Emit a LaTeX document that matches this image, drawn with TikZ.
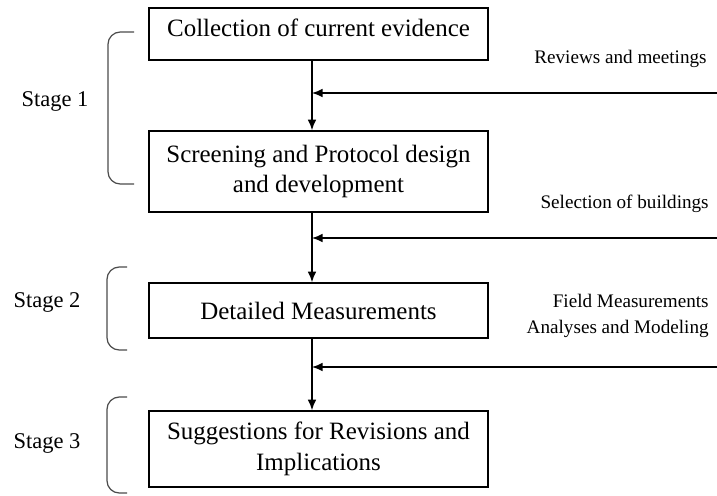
\documentclass[tikz,border=0pt]{standalone}
\usepackage{fontspec}
\setmainfont{Liberation Serif}
\usepackage{tikz}
\usetikzlibrary{arrows.meta}

\begin{document}
\begin{tikzpicture}[x=0.02cm,y=-0.02cm,
    stepbox/.style={draw,line width=0.9pt,minimum width=6.78cm,align=center,
        inner sep=0pt,font=\fontsize{14.2}{17.5}\selectfont},
    sidetext/.style={anchor=east,align=right,inner sep=0pt,
        font=\fontsize{10.9}{15}\selectfont},
    stagetext/.style={inner sep=0pt,font=\fontsize{12.8}{15}\selectfont},
    flow/.style={line width=0.9pt,-{Latex[length=6pt,width=5pt]}},
    bracket/.style={draw=black!70,line width=0.7pt,rounded corners=7pt}]
      \useasboundingbox (0,0) rectangle (717,495);
      \node[stepbox,minimum height=1.04cm,text depth=0.24cm] (collect) at (318.5,34) {Collection of current evidence};
      \node[stepbox,minimum height=1.62cm] (screen) at (318.5,171.5) {Screening and Protocol design\\and development};
      \node[stepbox,minimum height=1.1cm] (measure) at (318.5,310.5) {Detailed Measurements};
      \node[stepbox,minimum height=1.52cm] (suggest) at (318.5,449) {Suggestions for Revisions and\\Implications};
      \node[sidetext] (reviews) at (707,59) {Reviews and meetings};
      \node[sidetext] (select) at (709,204) {Selection of buildings};
      \node[sidetext] (field) at (709,316) {Field Measurements\\Analyses and Modeling};
      \node[stagetext] (stage1) at (55,101) {Stage 1};
      \node[stagetext] (stage2) at (47,302) {Stage 2};
      \node[stagetext] (stage3) at (47,443) {Stage 3};
      \coordinate (axis) at (312,0);
      \coordinate (in1) at (717,93);
      \coordinate (in2) at (717,238);
      \coordinate (in3) at (717,367);
      \path
      (collect.south -| axis) edge [flow] node {} (screen.north -| axis)
      (screen.south -| axis) edge [flow] node {} (measure.north -| axis)
      (measure.south -| axis) edge [flow] node {} (suggest.north -| axis);
      \path
      (in1) edge [flow] node {} (in1 -| axis)
      (in2) edge [flow] node {} (in2 -| axis)
      (in3) edge [flow] node {} (in3 -| axis);
      % stage brackets
      \draw[bracket] (134,32) -- (108,32) -- (108,184) -- (134,184);
      \draw[bracket] (127,267) -- (107,267) -- (107,350) -- (127,350);
      \draw[bracket] (127,397) -- (107,397) -- (107,493) -- (127,493);
    \end{tikzpicture}
\end{document}
